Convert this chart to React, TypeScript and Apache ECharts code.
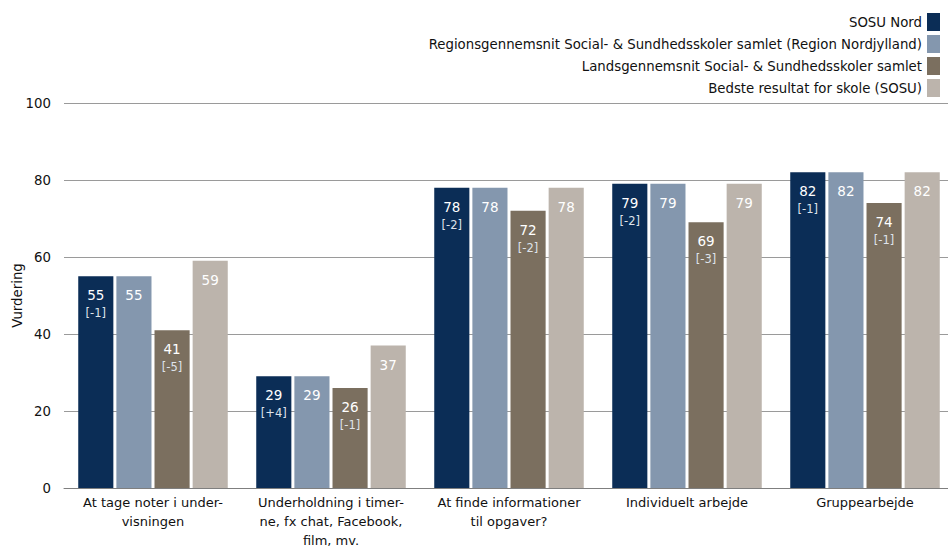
import React, { useEffect, useRef } from "react";
import * as echarts from "echarts";

const categories = [
  "At tage noter i under-\nvisningen",
  "Underholdning i timer-\nne, fx chat, Facebook,\nfilm, mv.",
  "At finde informationer\ntil opgaver?",
  "Individuelt arbejde",
  "Gruppearbejde",
];
const seriesNames = [
  "SOSU Nord",
  "Regionsgennemsnit Social- & Sundhedsskoler samlet (Region Nordjylland)",
  "Landsgennemsnit Social- & Sundhedsskoler samlet",
  "Bedste resultat for skole (SOSU)",
];
const sosuNord = [55, 29, 78, 79, 82];
const sosuNordDelta = ["-1", "+4", "-2", "-2", "-1"];
const region = [55, 29, 78, 79, 82];
const lands = [41, 26, 72, 69, 74];
const landsDelta = ["-5", "-1", "-2", "-3", "-1"];
const bedste = [59, 37, 78, 79, 82];
const yTicks = [0, 20, 40, 60, 80, 100];
const colors = ["#0b2d56", "#8497ae", "#7b6f5f", "#bcb4ac"];

const FONT = "DejaVu Sans";
const FS = 13.3;

export default function App() {
  const ref = useRef<HTMLDivElement>(null);
  useEffect(() => {
    const chart = echarts.init(ref.current!, null, { renderer: "svg" });
    const mkLabel = (deltas?: string[]) => ({
      show: true,
      position: "insideTop",
      distance: 10,
      color: "#ffffff",
      fontFamily: FONT,
      fontSize: 13.5,
      lineHeight: 18,
      formatter: (p: any) =>
        deltas ? `{v|${p.value}}\n{d|[${deltas[p.dataIndex]}]}` : `{v|${p.value}}`,
      rich: {
        v: { fontFamily: FONT, fontSize: 13.5, color: "#ffffff", lineHeight: 18 },
        d: { fontFamily: FONT, fontSize: 11.5, color: "#dfe3ea", lineHeight: 18 },
      },
    });
    const datas = [sosuNord, region, lands, bedste];
    const deltas = [sosuNordDelta, undefined, landsDelta, undefined];
    chart.setOption({
      animation: false,
      textStyle: { fontFamily: FONT },
      legend: {
        orient: "vertical",
        right: 3,
        top: 8,
        align: "right",
        itemWidth: 13,
        itemHeight: 18,
        itemGap: 4,
        icon: "rect",
        textStyle: { fontFamily: FONT, fontSize: FS, color: "#111" },
        data: seriesNames,
      },
      grid: {
        left: 64,
        right: -6,
        top: 103,
        bottom: 60,
        containLabel: false,
        outerBoundsMode: "none",
      },
      xAxis: {
        type: "category",
        data: categories,
        axisTick: { show: false },
        axisLine: { show: true, lineStyle: { color: "#7f7f7f" } },
        axisLabel: {
          interval: 0,
          fontFamily: FONT,
          fontSize: 13,
          lineHeight: 19,
          color: "#111",
          margin: 5,
        },
      },
      yAxis: {
        type: "value",
        min: yTicks[0],
        max: yTicks[yTicks.length - 1],
        interval: 20,
        name: "Vurdering",
        nameLocation: "middle",
        nameGap: 40,
        nameMoveOverlap: false,
        nameTextStyle: { fontFamily: FONT, fontSize: FS, color: "#111" },
        axisLine: { show: false },
        axisTick: { show: false },
        axisLabel: { fontFamily: FONT, fontSize: FS, color: "#111", margin: 13 },
        splitLine: { lineStyle: { color: "#9a9a9a", width: 1 } },
      },
      series: datas.map((d, i) => ({
        type: "bar",
        name: seriesNames[i],
        data: d,
        barGap: "8.6%",
        barCategoryGap: "16%",
        itemStyle: { color: colors[i] },
        label: mkLabel(deltas[i]),
      })),
    });
    return () => chart.dispose();
  }, []);
  return <div ref={ref} style={{ width: 948, height: 548, position: "absolute", left: 0, top: 0 }} />;
}
